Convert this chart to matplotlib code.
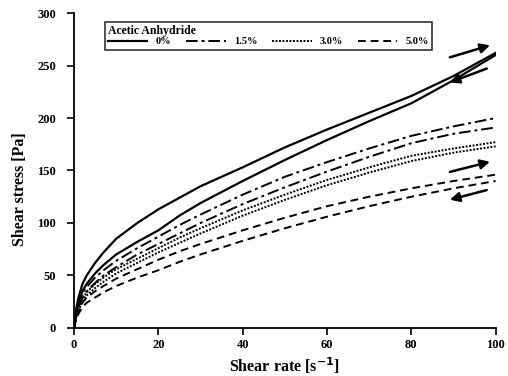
import matplotlib
matplotlib.use("Agg")
from matplotlib import pyplot as plt

# shear rate [1/s]
shear_rate = [0, 0.5, 1, 2, 3, 5, 7, 10, 15, 20, 25, 30, 40, 50, 60, 70, 80, 90, 100]

# shear stress [Pa], up and down curves for each anhydride level
up_0 = [0, 18, 28, 42, 50, 62, 72, 85, 100, 113, 124, 135, 153, 172, 189, 205, 221, 240, 262]
down_0 = [0, 14, 22, 35, 42, 52, 60, 70, 82, 93, 107, 119, 140, 160, 179, 197, 214, 236, 260]
up_15 = [0, 14, 22, 33, 39, 48, 55, 64, 76, 87, 98, 108, 127, 144, 158, 171, 183, 192, 200]
down_15 = [0, 12, 19, 29, 35, 43, 50, 58, 70, 80, 90, 100, 118, 134, 149, 163, 176, 185, 191]
up_30 = [0, 12, 19, 28, 34, 42, 48, 56, 66, 76, 86, 95, 112, 127, 141, 153, 164, 171, 177]
down_30 = [0, 10, 16, 25, 31, 38, 44, 52, 62, 72, 81, 90, 107, 122, 136, 148, 159, 167, 173]
up_50 = [0, 10, 16, 24, 29, 35, 40, 47, 56, 65, 73, 80, 93, 105, 116, 125, 133, 140, 146]
down_50 = [0, 8, 13, 20, 24, 29, 34, 40, 48, 55, 63, 70, 83, 95, 106, 116, 125, 133, 140]

labels = ['0%', '1.5%', '3.0%', '5.0%']

plt.rcParams['font.family'] = 'Liberation Serif'
plt.rcParams['font.weight'] = 'bold'

fig = plt.figure(figsize=(5.08, 3.76), dpi=100)
ax = fig.add_axes([0.1457, 0.1277, 0.83, 0.8377])

styles = [
    dict(linestyle='-', linewidth=1.6),
    dict(linestyle=(0, (6, 2, 1.5, 2)), linewidth=1.4),
    dict(linestyle=(0, (1, 0.8)), linewidth=1.4),
    dict(linestyle=(0, (4, 2.5)), linewidth=1.4),
]
pairs = [(up_0, down_0), (up_15, down_15), (up_30, down_30), (up_50, down_50)]

handles = []
for (up, down), st, lab in zip(pairs, styles, labels):
    h, = ax.plot(shear_rate, up, color='black', label=lab, **st)
    ax.plot(shear_rate, down, color='black', **st)
    handles.append(h)

# direction arrows (up / down curves)
arrows = [((88.5, 257), (99.3, 270)), ((98.5, 248), (88.5, 233)),
          ((88.5, 148), (99.3, 159)), ((98.5, 132), (88.5, 121.5))]
for start, end in arrows:
    ax.annotate('', xy=end, xytext=start,
                arrowprops=dict(arrowstyle='-|>', color='black', lw=1.8,
                                mutation_scale=14),
                annotation_clip=False)

ax.set_xlim(0, 100)
ax.set_ylim(0, 300)
ax.set_xticks([0, 20, 40, 60, 80, 100])
ax.set_yticks([0, 50, 100, 150, 200, 250, 300])
ax.spines['top'].set_visible(False)
ax.spines['right'].set_visible(False)
ax.tick_params(labelsize=9, width=1.2, length=5)
ax.tick_params(axis='y', pad=8)
ax.tick_params(axis='x', pad=3)
for s in ['left', 'bottom']:
    ax.spines[s].set_linewidth(1.3)

ax.set_xlabel('Shear rate [s$^{\\mathbf{-1}}$]', fontsize=11.5, fontweight='bold')
ax.set_ylabel('Shear stress [Pa]', fontsize=11.5, fontweight='bold')
ax.xaxis.set_label_coords(0.5, -0.088)
ax.yaxis.set_label_coords(-0.109, 0.44)

leg = ax.legend(handles=handles, labels=labels, ncol=4, title='Acetic Anhydride',
                loc='upper left', bbox_to_anchor=(0.068, 0.978), frameon=True,
                fancybox=False, edgecolor='black', fontsize=7.5, handlelength=3.8,
                handletextpad=0.8, columnspacing=1.4, borderpad=0.3,
                labelspacing=0.2, borderaxespad=0.2)
leg.get_title().set_fontweight('bold')
leg.get_title().set_fontsize(8.5)
leg._legend_box.align = 'left'
leg._legend_box.sep = 0
leg.get_frame().set_linewidth(1.2)

fig.savefig('out.png', dpi=100)
